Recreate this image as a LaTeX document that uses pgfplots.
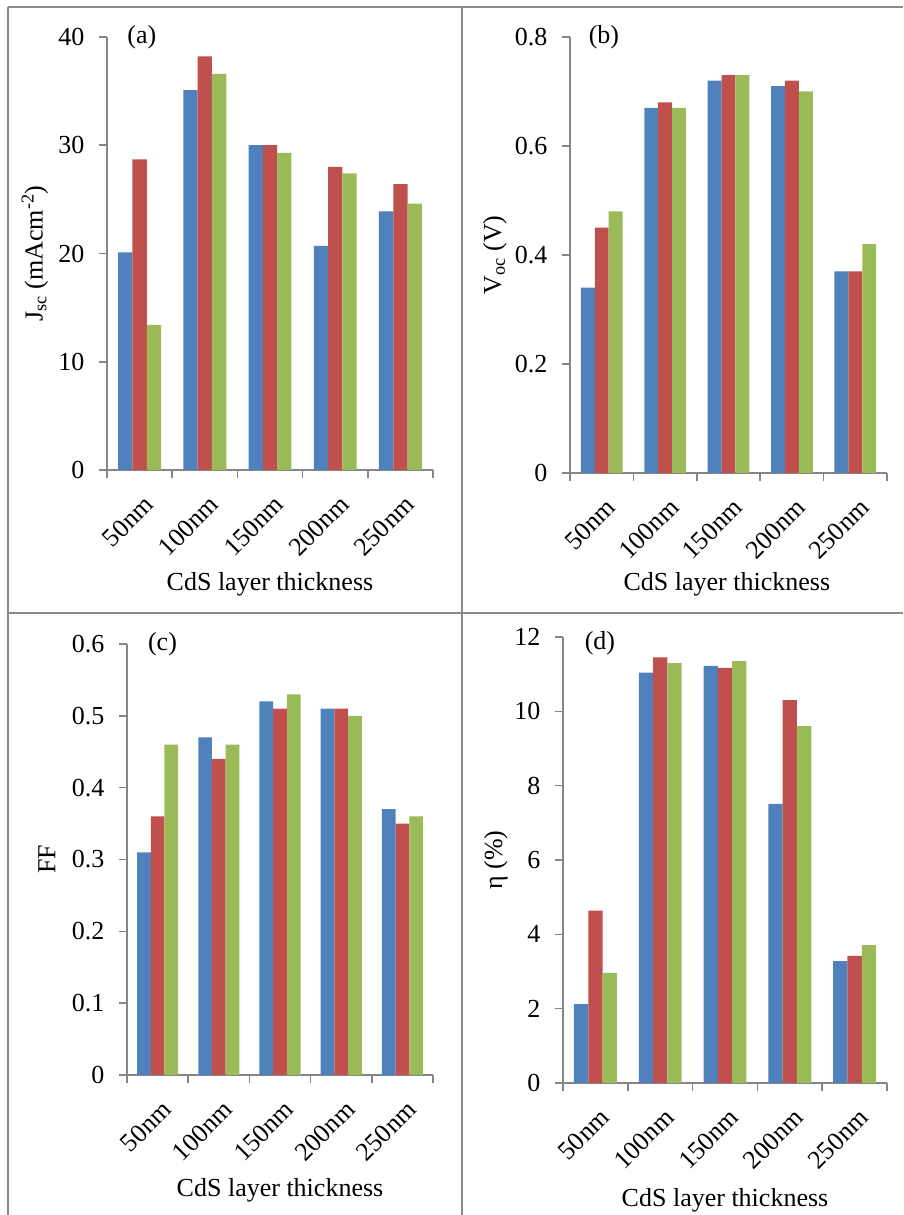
\documentclass[border=0pt]{standalone}
\usepackage{fontspec}
\setmainfont{Liberation Serif}
\usepackage{pgfplots}
\pgfplotsset{compat=1.18}
\definecolor{cblue}{HTML}{4F81BD}
\definecolor{cred}{HTML}{C0504D}
\definecolor{cgreen}{HTML}{9BBB59}
\definecolor{axgray}{HTML}{868686}
\definecolor{framegray}{HTML}{8A8A8A}
\newcommand{\bigfont}{\fontsize{26}{30}\selectfont}
\pgfplotsset{
  panel/.style={
    scale only axis,
    clip=false,
    axis lines=left,
    axis line style={-, axgray, line width=1.6pt},
    xmin=-0.5, xmax=4.5, ymin=0,
    xtick={0,1,2,3,4},
    xticklabels={50nm,100nm,150nm,200nm,250nm},
    major x tick style={draw=none},
    minor xtick={-0.5,0.5,1.5,2.5,3.5,4.5},
    tick align=outside,
    major tick length=8pt, minor tick length=8pt,
    every tick/.style={axgray, line width=1.6pt},
    /pgf/number format/assume math mode=true,
    ticklabel style={font=\bigfont},
    xticklabel style={xshift=3pt, yshift=-13pt, rotate=45, anchor=north east, inner sep=2pt},
    yticklabel style={xshift=-11pt},
    label style={font=\bigfont},
    ybar=0pt,
  },
  sb/.style={fill=cblue, draw=none},
  sr/.style={fill=cred, draw=none},
  sg/.style={fill=cgreen, draw=none},
}
\begin{document}
\begin{tikzpicture}[x=1pt,y=1pt]
\useasboundingbox (0,0) rectangle (903,1215);
% frame lines
\draw[framegray, line width=2pt] (8,1208) -- (903,1208);
\draw[framegray, line width=2pt] (8,1208) -- (8,0);
\draw[framegray, line width=2pt] (462,1208) -- (462,0);
\draw[framegray, line width=2pt] (8,602) -- (903,602);

% (a)
\begin{axis}[panel, at={(107pt,745pt)}, anchor=south west,
  width=326pt, height=433pt, ymax=40, ytick={0,10,20,30,40},
  bar width=14.3pt,
  ylabel={J\textsubscript{sc} (mAcm\textsuperscript{-2})},
  ylabel style={at={(axis description cs:-0.221,0.5)}, anchor=center},
  xlabel={CdS layer thickness},
  xlabel style={at={(axis description cs:0.5,-0.263)}, anchor=center}]
\addplot[sb] coordinates {(0,20.1) (1,35.1) (2,30.0) (3,20.7) (4,23.9)};
\addplot[sr] coordinates {(0,28.7) (1,38.2) (2,30.0) (3,28.0) (4,26.4)};
\addplot[sg] coordinates {(0,13.4) (1,36.6) (2,29.3) (3,27.4) (4,24.6)};
\node[font=\bigfont] at (axis description cs:0.107,1.0) {(a)};
\end{axis}

% (b)
\begin{axis}[panel, at={(570pt,742pt)}, anchor=south west,
  width=317pt, height=436pt, ymax=0.8, ytick={0,0.2,0.4,0.6,0.8},
  bar width=13.9pt,
  ylabel={V\textsubscript{oc} (V)},
  ylabel style={at={(axis description cs:-0.237,0.5)}, anchor=center},
  xlabel={CdS layer thickness},
  xlabel style={at={(axis description cs:0.495,-0.255)}, anchor=center}]
\addplot[sb] coordinates {(0,0.34) (1,0.67) (2,0.72) (3,0.71) (4,0.37)};
\addplot[sr] coordinates {(0,0.45) (1,0.68) (2,0.73) (3,0.72) (4,0.37)};
\addplot[sg] coordinates {(0,0.48) (1,0.67) (2,0.73) (3,0.70) (4,0.42)};
\node[font=\bigfont] at (axis description cs:0.107,1.0) {(b)};
\end{axis}

% (c)
\begin{axis}[panel, at={(127pt,140pt)}, anchor=south west,
  width=306pt, height=431pt, ymax=0.6, ytick={0,0.1,0.2,0.3,0.4,0.5,0.6},
  bar width=13.7pt,
  ylabel={FF},
  ylabel style={at={(axis description cs:-0.262,0.5)}, anchor=center},
  xlabel={CdS layer thickness},
  xlabel style={at={(axis description cs:0.5,-0.268)}, anchor=center}]
\addplot[sb] coordinates {(0,0.31) (1,0.47) (2,0.52) (3,0.51) (4,0.37)};
\addplot[sr] coordinates {(0,0.36) (1,0.44) (2,0.51) (3,0.51) (4,0.35)};
\addplot[sg] coordinates {(0,0.46) (1,0.46) (2,0.53) (3,0.50) (4,0.36)};
\node[font=\bigfont] at (axis description cs:0.116,1.0) {(c)};
\end{axis}

% (d)
\begin{axis}[panel, at={(563pt,132pt)}, anchor=south west,
  width=324pt, height=446pt, ymax=12, ytick={0,2,4,6,8,10,12},
  bar width=14.3pt,
  ylabel={η (\%)},
  ylabel style={at={(axis description cs:-0.207,0.5)}, anchor=center},
  xlabel={CdS layer thickness},
  xlabel style={at={(axis description cs:0.5,-0.262)}, anchor=center}]
\addplot[sb] coordinates {(0,2.12) (1,11.04) (2,11.22) (3,7.51) (4,3.28)};
\addplot[sr] coordinates {(0,4.64) (1,11.45) (2,11.17) (3,10.30) (4,3.42)};
\addplot[sg] coordinates {(0,2.96) (1,11.30) (2,11.35) (3,9.60) (4,3.71)};
\node[font=\bigfont] at (axis description cs:0.114,0.987) {(d)};
\end{axis}
\end{tikzpicture}
\end{document}
